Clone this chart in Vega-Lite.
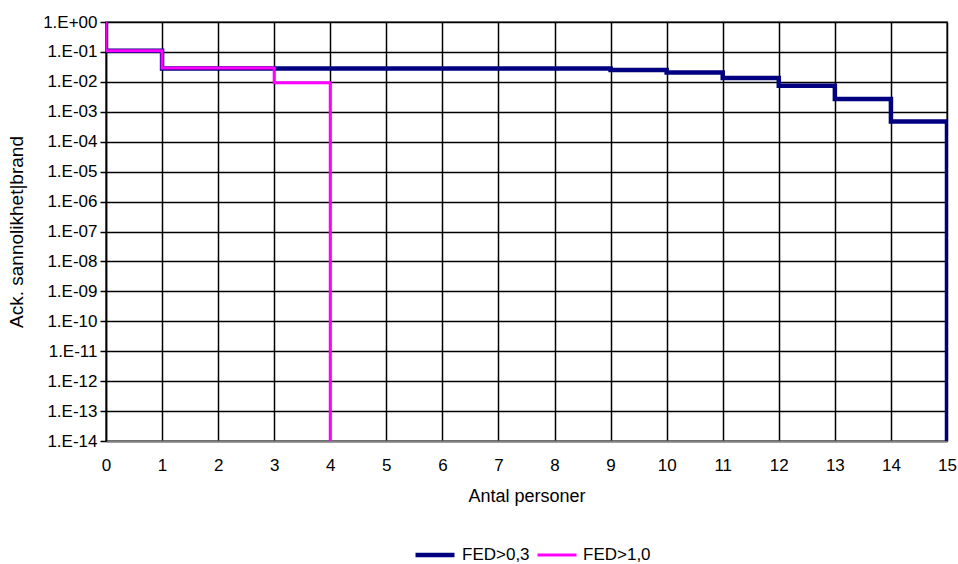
{
  "$schema": "https://vega.github.io/schema/vega-lite/v6.json",
  "autosize": "none",
  "width": 841,
  "height": 419,
  "padding": {"left": 106, "top": 22, "right": 11, "bottom": 123},
  "background": "white",
  "config": {
    "font": "Liberation Sans",
    "view": {"stroke": "#808080", "strokeWidth": 2},
    "axis": {"labelFont": "Liberation Sans", "titleFont": "Liberation Sans", "labelColor": "#000", "titleColor": "#000", "titleFontWeight": "normal"}
  },
  "data": {
    "values": [
      {"serie": "FED>0,3", "o": 0, "x": 0, "y": 1},
      {"serie": "FED>0,3", "o": 1, "x": 0, "y": 0.11},
      {"serie": "FED>0,3", "o": 2, "x": 1, "y": 0.028},
      {"serie": "FED>0,3", "o": 3, "x": 9, "y": 0.025},
      {"serie": "FED>0,3", "o": 4, "x": 10, "y": 0.0204},
      {"serie": "FED>0,3", "o": 5, "x": 11, "y": 0.0135},
      {"serie": "FED>0,3", "o": 6, "x": 12, "y": 0.0074},
      {"serie": "FED>0,3", "o": 7, "x": 13, "y": 0.0027},
      {"serie": "FED>0,3", "o": 8, "x": 14, "y": 0.00047},
      {"serie": "FED>0,3", "o": 9, "x": 15, "y": 1e-14},
      {"serie": "FED>1,0", "o": 0, "x": 0, "y": 1},
      {"serie": "FED>1,0", "o": 1, "x": 0, "y": 0.11},
      {"serie": "FED>1,0", "o": 2, "x": 1, "y": 0.029},
      {"serie": "FED>1,0", "o": 3, "x": 3, "y": 0.0093},
      {"serie": "FED>1,0", "o": 4, "x": 4, "y": 1e-14}
    ]
  },
  "mark": {"type": "line", "interpolate": "step-after", "clip": true, "strokeCap": "butt", "strokeJoin": "miter"},
  "encoding": {
    "x": {
      "field": "x", "type": "quantitative",
      "scale": {"domain": [0, 15], "nice": false, "zero": false},
      "axis": {
        "values": [0,1,2,3,4,5,6,7,8,9,10,11,12,13,14,15],
        "title": "Antal personer", "titleFontSize": 18, "titlePadding": 14,
        "labelFontSize": 17, "labelPadding": 16, "ticks": false,
        "domainColor": "#808080", "domainWidth": 2,
        "grid": true, "gridColor": "#000", "gridWidth": 1.5, "gridOpacity": 1,
        "labelFlush": false
      }
    },
    "y": {
      "field": "y", "type": "quantitative",
      "scale": {"type": "log", "domain": [1e-14, 1], "nice": false},
      "axis": {
        "values": [1, 0.1, 0.01, 0.001, 0.0001, 1e-5, 1e-6, 1e-7, 1e-8, 1e-9, 1e-10, 1e-11, 1e-12, 1e-13, 1e-14],
        "labelExpr": "'1.E' + (datum.value >= 1 ? '+' : '-') + (abs(round(log(datum.value)/LN10)) < 10 ? '0' : '') + abs(round(log(datum.value)/LN10))",
        "title": "Ack. sannolikhet|brand", "titleFontSize": 19, "titlePadding": 16,
        "labelFontSize": 17, "labelPadding": 3, "tickSize": 6, "tickColor": "#000", "tickWidth": 1.5,
        "domainColor": "#000", "domainWidth": 1.5,
        "grid": true, "gridColor": "#000", "gridWidth": 1.5, "gridOpacity": 1,
        "labelFlush": false
      }
    },
    "color": {
      "field": "serie", "type": "nominal",
      "scale": {"domain": ["FED>0,3", "FED>1,0"], "range": ["#000080", "#FF00FF"]},
      "legend": {
        "title": null, "orient": "none", "direction": "horizontal",
        "legendX": 307, "legendY": 511,
        "symbolType": "stroke", "symbolSize": 1521, "symbolStrokeWidth": 4,
        "labelFontSize": 17, "labelOffset": 5, "columnPadding": 1, "labelColor": "#000"
      }
    },
    "strokeWidth": {
      "field": "serie", "type": "nominal",
      "scale": {"domain": ["FED>0,3", "FED>1,0"], "range": [4.5, 3]},
      "legend": null
    },
    "order": {"field": "o", "type": "quantitative"}
  }
}
